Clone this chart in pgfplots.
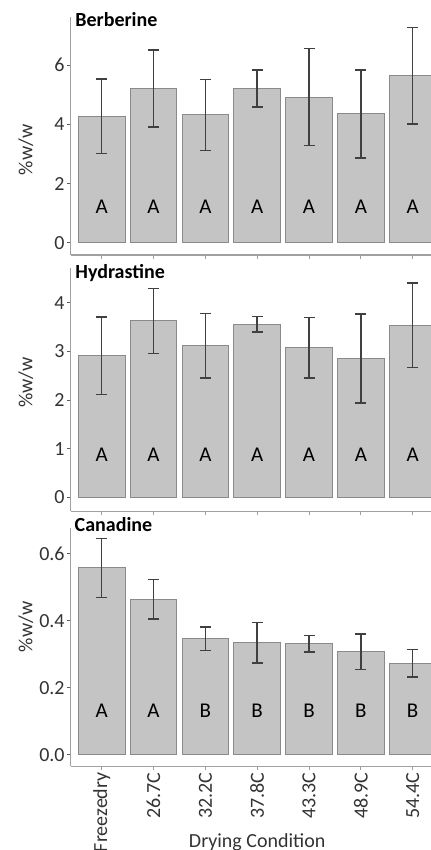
\documentclass[border=0pt]{standalone}
\usepackage{pgfplots}
\pgfplotsset{compat=1.18}
\usepackage{fontspec}
\setmainfont{Carlito}
\definecolor{barfill}{HTML}{C4C4C4}
\definecolor{bardraw}{HTML}{8A8A8A}
\definecolor{errc}{HTML}{404040}
\definecolor{axc}{HTML}{A0A0A0}
\definecolor{txt}{HTML}{333333}

\pgfplotsset{
 panel/.style={
  scale only axis, width=186.6pt, xmin=0.4, xmax=7.6, xtick={1,...,7},
  axis x line*=bottom, axis y line*=left,
  axis line style={draw=axc, line width=0.5pt, -},
  tick align=outside, major tick length=2pt,
  y tick style={draw=txt!80, line width=0.5pt},
  x tick style={draw=axc, line width=0.5pt},
  font=\fontsize{10}{12}\selectfont,
  tick label style={font=\fontsize{10}{12}\selectfont, text=txt},
  /pgf/number format/assume math mode=true,
  yticklabel style={inner sep=0.8pt},
  anchor=south west,
  every axis title shift=0pt,
  title style={anchor=west, inner sep=0pt, yshift=0pt, font=\fontsize{10}{12}\selectfont\bfseries, text=black},
  ylabel={\%w/w},
  ylabel style={anchor=center, text=txt, font=\fontsize{10}{12}\selectfont},
 },
 bars/.style={ybar, bar width=0.9, fill=barfill, draw=bardraw, line width=0.5pt,
   error bars/y dir=both, error bars/y explicit,
   error bars/error bar style={draw=errc, line width=0.75pt},
   error bars/error mark options={rotate=90, mark size=2.75pt, line width=0.75pt, draw=errc}},
 letters/.style={draw=none, mark=none, nodes near coords, point meta=explicit symbolic,
   nodes near coords style={anchor=center, font=\fontsize{10.5}{12}\selectfont, text=black}},
}

\begin{document}
\begin{tikzpicture}
\useasboundingbox (0pt,0pt) rectangle (215.5pt,-425pt);

% Berberine
\begin{axis}[panel, at={(35.3pt,-127.5pt)}, height=119.15pt,
  ymin=-0.405, ymax=7.63, ytick={0,2,4,6}, xticklabels={,,,,,,},
  title={Berberine}, title style={at={(axis description cs:0.0118,0.986)}},
  ylabel style={at={(axis description cs:-0.120,0.441)}}]
\addplot[bars] table[x=x, y=y, y error=e] {
x y e
1 4.27 1.26
2 5.21 1.30
3 4.32 1.20
4 5.21 0.62
5 4.92 1.63
6 4.35 1.49
7 5.64 1.62
};
\addplot[letters] coordinates {(1,1.22)[A] (2,1.22)[A] (3,1.22)[A] (4,1.22)[A] (5,1.22)[A] (6,1.22)[A] (7,1.22)[A]};
\end{axis}

% Hydrastine
\begin{axis}[panel, at={(35.3pt,-255.65pt)}, height=121.65pt,
  ymin=-0.29, ymax=4.72, ytick={0,1,2,3,4}, xticklabels={,,,,,,},
  title={Hydrastine}, title style={at={(axis description cs:0.0118,0.981)}},
  ylabel style={at={(axis description cs:-0.120,0.529)}}]
\addplot[bars] table[x=x, y=y, y error=e] {
x y e
1 2.915 0.80
2 3.63 0.67
3 3.115 0.665
4 3.56 0.16
5 3.075 0.625
6 2.855 0.915
7 3.54 0.87
};
\addplot[letters] coordinates {(1,0.87)[A] (2,0.87)[A] (3,0.87)[A] (4,0.87)[A] (5,0.87)[A] (6,0.87)[A] (7,0.87)[A]};
\end{axis}

% Canadine
\begin{axis}[panel, at={(35.3pt,-383pt)}, height=119pt,
  ymin=-0.033, ymax=0.676, ytick={0,0.2,0.4,0.6},
  yticklabel style={/pgf/number format/.cd, fixed, fixed zerofill, precision=1},
  xticklabels={Freezedry,26.7C,32.2C,37.8C,43.3C,48.9C,54.4C},
  xticklabel style={rotate=90, anchor=east, inner sep=1pt},
  xlabel={Drying Condition},
  xlabel style={at={(axis description cs:0.5,0)}, anchor=center, yshift=-38pt, text=txt},
  title={Canadine}, title style={at={(axis description cs:0.0099,1.0126)}},
  ylabel style={at={(axis description cs:-0.120,0.585)}}]
\addplot[bars] table[x=x, y=y, y error=e] {
x y e
1 0.557 0.088
2 0.464 0.059
3 0.346 0.035
4 0.334 0.060
5 0.331 0.025
6 0.3075 0.0525
7 0.273 0.0415
};
\addplot[letters] coordinates {(1,0.132)[A] (2,0.132)[A] (3,0.132)[B] (4,0.132)[B] (5,0.132)[B] (6,0.132)[B] (7,0.132)[B]};
\end{axis}
\end{tikzpicture}
\end{document}
